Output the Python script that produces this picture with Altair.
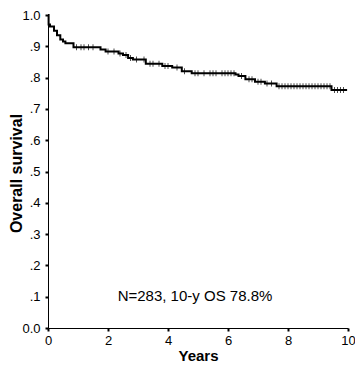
import altair as alt
import pandas as pd
import bisect

# Kaplan-Meier step points (years, overall survival)
step_years = [0, 0.02, 0.065, 0.2, 0.3, 0.41, 0.5, 0.58, 0.85, 1.75, 1.92, 2.35, 2.5,
              2.67, 2.83, 3.26, 3.81, 4.14, 4.46, 4.79, 6.25, 6.35, 6.58, 6.9, 7.23,
              7.62, 9.45, 9.97]
step_surv = [1.0, 0.97, 0.963, 0.95, 0.935, 0.922, 0.915, 0.91, 0.897, 0.89, 0.883, 0.877,
             0.872, 0.863, 0.858, 0.844, 0.837, 0.832, 0.82, 0.814, 0.81, 0.805, 0.795,
             0.787, 0.781, 0.772, 0.76, 0.76]

# censoring times (years)
censor_years = [0.95, 1.1, 1.2, 1.35, 1.5, 2.0, 2.2, 2.4, 2.6, 2.75, 2.95, 3.2, 3.4, 3.5,
                3.7, 3.9, 4.0, 4.3, 4.55, 4.9, 5.0, 5.2, 5.4, 5.5, 5.6, 5.8, 5.9, 6.0,
                6.1, 6.2, 6.45, 6.7, 6.8, 7.0, 7.1, 7.3, 7.45, 7.7, 7.8, 7.9, 8.0, 8.1,
                8.2, 8.3, 8.4, 8.5, 8.6, 8.7, 8.8, 8.9, 9.0, 9.1, 9.2, 9.3, 9.4, 9.55,
                9.65, 9.75, 9.85]

y_ticks = [0, 0.1, 0.2, 0.3, 0.4, 0.5, 0.6, 0.7, 0.8, 0.9, 1.0]
x_ticks = [0, 2, 4, 6, 8, 10]
annotation = "N=283, 10-y OS 78.8%"

curve = pd.DataFrame({"years": step_years, "surv": step_surv})
cens_surv = [step_surv[bisect.bisect_right(step_years, t) - 1] for t in censor_years]
cens = pd.DataFrame({"years": censor_years, "surv": cens_surv})

FONT = "Liberation Sans"

x_enc = alt.X("years:Q", scale=alt.Scale(domain=[0, 10], nice=False),
              axis=alt.Axis(values=x_ticks, tickCount=len(x_ticks), title="Years",
                            format="d", labelPadding=3, titlePadding=1, titleFontSize=15,
                            labelFlush=False, labelOverlap=False))
y_enc = alt.Y("surv:Q", scale=alt.Scale(domain=[0, 1], nice=False),
              axis=alt.Axis(values=y_ticks, tickCount=len(y_ticks), title="Overall survival",
                            labelPadding=5, titleFontSize=16,
                            titleX=-32, titleY=158, titleAngle=270,
                            titleAlign="center", titleBaseline="middle",
                            labelFlush=False, labelOverlap=False,
                            labelExpr="datum.value < 0.05 ? '0.0' : datum.value > 0.95 ? '1.0' : '.' + round(datum.value * 10)"))

line = alt.Chart(curve).mark_line(interpolate="step-after", color="black",
                                  strokeWidth=2).encode(x=x_enc, y=y_enc)

ticks = alt.Chart(cens).mark_tick(orient="vertical", size=6, thickness=1,
                                  color="black").encode(x="years:Q", y="surv:Q")

text = alt.Chart(pd.DataFrame({"years": [4.9], "surv": [0.103], "t": [annotation]})).mark_text(
    font=FONT, fontSize=15, color="black", align="center", baseline="middle"
).encode(x="years:Q", y="surv:Q", text="t:N")

chart = (line + ticks + text).properties(
    width=300, height=313,
    autosize=alt.AutoSizeParams(type="none"),
    padding={"left": 40, "top": 7, "right": 7, "bottom": 36},
).configure_view(stroke=None).configure_axis(
    grid=False, domainColor="black", domainWidth=1, tickColor="black", tickSize=3,
    tickWidth=2, labelFont=FONT, labelFontSize=13, labelColor="black",
    titleFont=FONT, titleFontWeight="bold", titleColor="black",
)

chart.save("out.html", embed_options={"renderer": "svg", "actions": False})
